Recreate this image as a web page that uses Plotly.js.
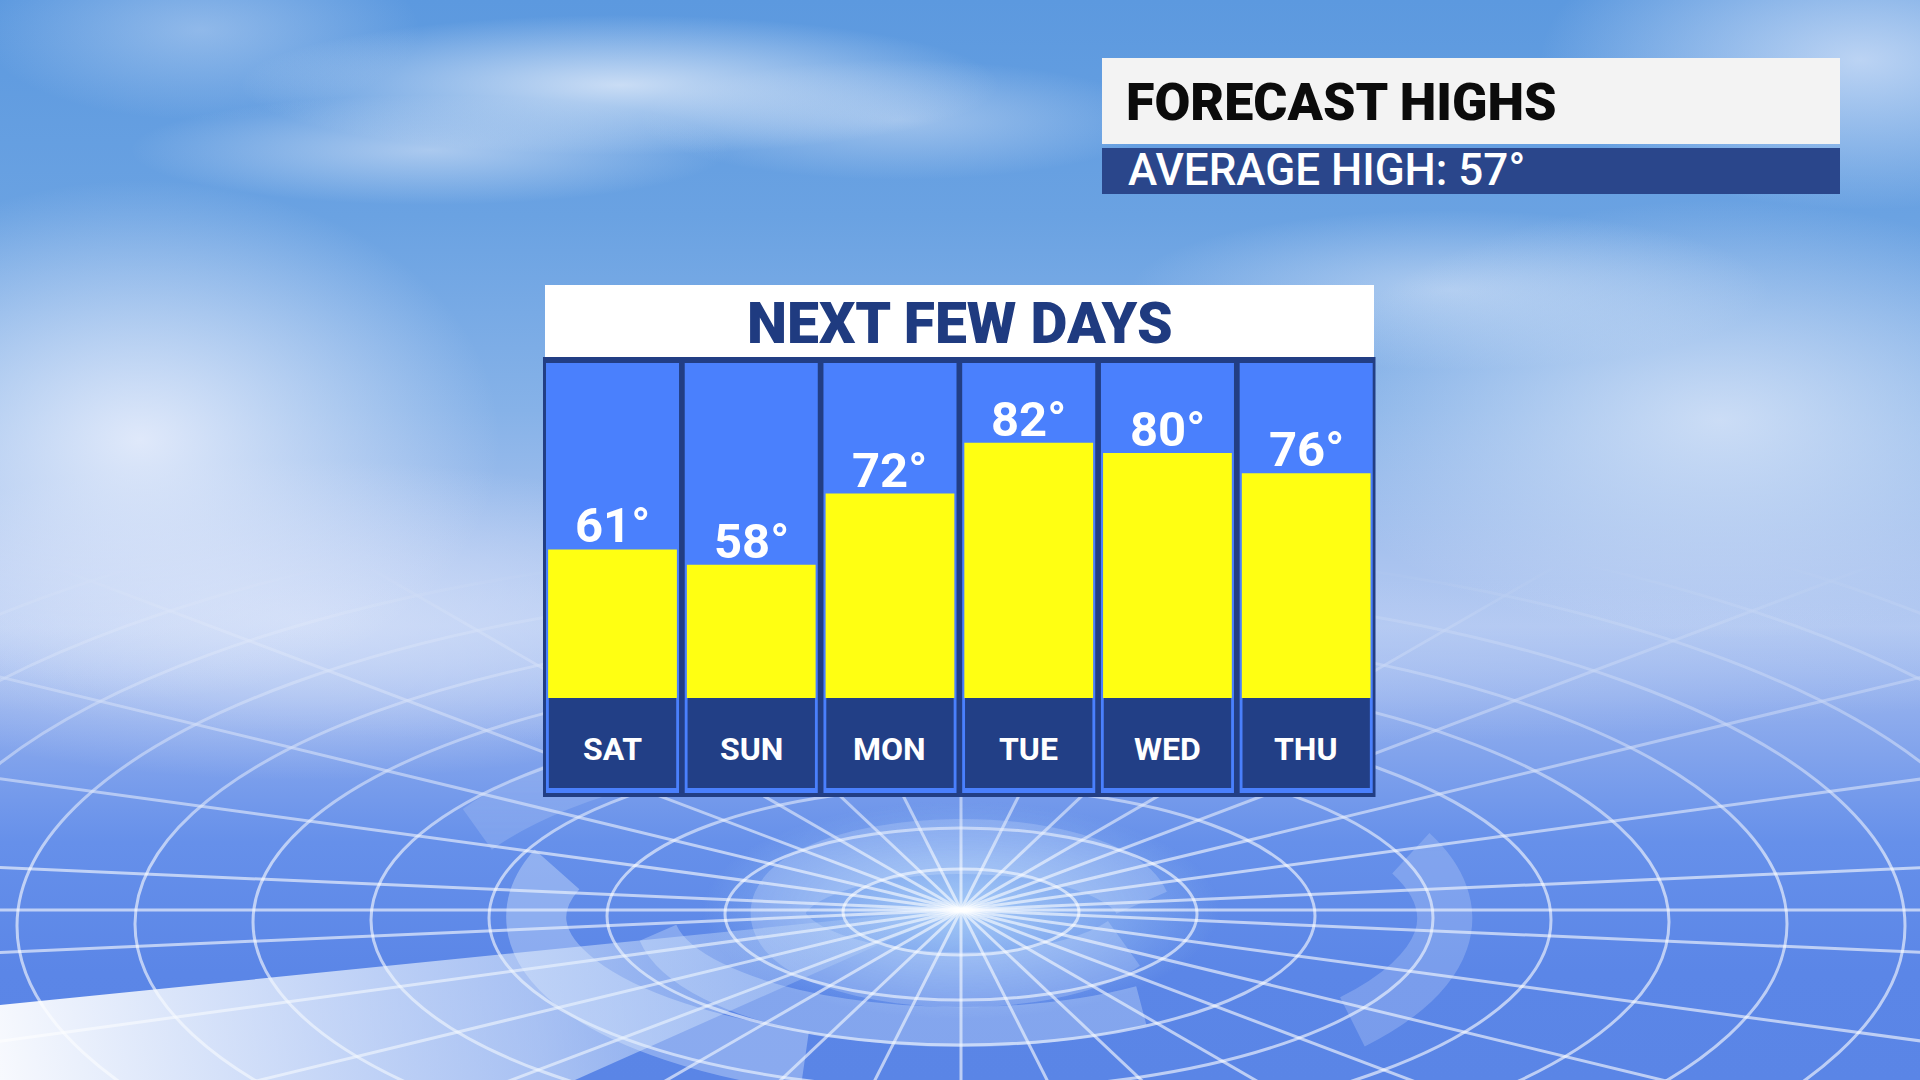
<!DOCTYPE html>
<html>
<head>
<meta charset="utf-8">
<script src="https://cdn.plot.ly/plotly-3.0.1.min.js"></script>
<style>
html,body{margin:0;padding:0;width:1920px;height:1080px;overflow:hidden;background:#6a9fe2;}
#sky{position:absolute;left:0;top:0;width:1920px;height:1080px;
background:
 radial-gradient(ellipse 380px 70px at 620px 85px, rgba(236,242,252,0.75), rgba(236,242,252,0) 100%),
 radial-gradient(ellipse 300px 55px at 430px 150px, rgba(228,236,250,0.55), rgba(228,236,250,0) 100%),
 radial-gradient(ellipse 260px 60px at 900px 120px, rgba(228,236,250,0.45), rgba(228,236,250,0) 100%),
 radial-gradient(ellipse 220px 90px at 200px 30px, rgba(205,222,246,0.45), rgba(205,222,246,0) 100%),
 radial-gradient(ellipse 360px 260px at 140px 440px, rgba(232,238,252,0.9), rgba(232,238,252,0) 100%),
 radial-gradient(ellipse 520px 160px at 300px 620px, rgba(215,226,249,0.8), rgba(215,226,249,0) 100%),
 radial-gradient(ellipse 420px 220px at 1720px 420px, rgba(220,231,249,0.8), rgba(220,231,249,0) 100%),
 radial-gradient(ellipse 320px 150px at 1860px 60px, rgba(218,230,250,0.75), rgba(218,230,250,0) 100%),
 radial-gradient(ellipse 320px 80px at 1450px 290px, rgba(222,233,250,0.55), rgba(222,233,250,0) 100%),
 radial-gradient(ellipse 1150px 90px at 960px 660px, rgba(186,205,244,0.6), rgba(186,205,244,0) 100%),
 linear-gradient(to bottom, #5c99df 0%, #6aa2e2 20%, #86b2e8 38%, #a9c3ef 52%, #b3c9f2 58%, #8eaced 66%, #6690ea 78%, #5b86e7 90%, #5a85e6 100%);}
#grid{position:absolute;left:0;top:0;width:1920px;height:1080px;}
#chart{position:absolute;left:0;top:0;width:1920px;height:1080px;}
</style>
</head>
<body>
<div id="sky"></div>
<div id="grid"></div>
<div id="chart"></div>
<script>
// ---- data ----
const days = ['SAT', 'SUN', 'MON', 'TUE', 'WED', 'THU'];
const highs = [61, 58, 72, 82, 80, 76];
const AVG_HIGH = 57;
const TITLE_TEXT = 'FORECAST HIGHS';
const AVG_LABEL = 'AVERAGE HIGH:';
const PANEL_TITLE = 'NEXT FEW DAYS';

// ---- decorative background grid (perspective radar plane) ----
(function(){
  const cx = 961, cy = 910;
  let g = '';
  for (let n = 1; n <= 16; n++) {
    const rx = 118 * n, ry = 43 * n, oy = cy + 2 * n;
    g += `<ellipse cx="${cx}" cy="${oy}" rx="${rx}" ry="${ry}"/>`;
  }
  const N = 30;
  for (let k = 0; k < N; k++) {
    const t = (k + 0.5) * 2 * Math.PI / N;
    const dx = Math.cos(t), dy = 0.42 * Math.sin(t);
    const L = 3000;
    g += `<line x1="${cx}" y1="${cy}" x2="${cx + dx * L}" y2="${cy + dy * L}"/>`;
  }
  g += `<line x1="0" y1="${cy}" x2="1920" y2="${cy}"/>`;
  function arc(n, a0, a1, w, op) {
    const rx = 118 * n, ry = 43 * n, oy = cy + 2 * n;
    const p0 = [cx + rx * Math.cos(a0), oy + ry * Math.sin(a0)];
    const p1 = [cx + rx * Math.cos(a1), oy + ry * Math.sin(a1)];
    const large = Math.abs(a1 - a0) > Math.PI ? 1 : 0;
    return `<path d="M${p0[0]},${p0[1]} A${rx},${ry} 0 ${large} 1 ${p1[0]},${p1[1]}" stroke-width="${w}" stroke-opacity="${op}"/>`;
  }
  let bands = '';
  bands += arc(1.55, Math.PI * 0.15, Math.PI * 1.95, 55, 0.22);
  bands += arc(3.6, Math.PI * 0.62, Math.PI * 1.1, 60, 0.35);
  bands += arc(2.6, Math.PI * 0.3, Math.PI * 0.95, 40, 0.3);
  bands += arc(4.1, -Math.PI * 0.12, Math.PI * 0.2, 55, 0.22);
  bands += arc(4.6, Math.PI * 1.15, Math.PI * 1.45, 50, 0.2);
  const svg = `<svg width="1920" height="1080" xmlns="http://www.w3.org/2000/svg">
  <defs>
   <linearGradient id="fade" gradientUnits="userSpaceOnUse" x1="0" y1="560" x2="0" y2="860">
     <stop offset="0" stop-color="#fff" stop-opacity="0"/>
     <stop offset="1" stop-color="#fff" stop-opacity="1"/>
   </linearGradient>
   <mask id="m"><rect width="1920" height="1080" fill="url(#fade)"/></mask>
   <radialGradient id="glow" gradientUnits="userSpaceOnUse" cx="${cx}" cy="${cy}" r="260" gradientTransform="translate(0 ${cy}) scale(1 0.42) translate(0 ${-cy})">
     <stop offset="0" stop-color="#b7dafa" stop-opacity="0.8"/>
     <stop offset="1" stop-color="#b7dafa" stop-opacity="0"/>
   </radialGradient>
   <linearGradient id="beam" gradientUnits="userSpaceOnUse" x1="0" y1="1060" x2="961" y2="910">
     <stop offset="0" stop-color="#ffffff" stop-opacity="0.95"/>
     <stop offset="0.55" stop-color="#e8f2fd" stop-opacity="0.55"/>
     <stop offset="1" stop-color="#d8ecfd" stop-opacity="0.05"/>
   </linearGradient>
  </defs>
  <g mask="url(#m)">
   <ellipse cx="${cx}" cy="${cy + 20}" rx="420" ry="200" fill="url(#glow)"/>
   <g stroke="#ffffff" fill="none" stroke-opacity="0.6" stroke-width="3">${g}</g>
   <g stroke="#e6f1ff" fill="none">${bands}</g>
  </g>
  <polygon points="0,1005 961,908 575,1080 0,1080" fill="url(#beam)"/>
  </svg>`;
  document.getElementById('grid').innerHTML = svg;
})();

// ---- chart geometry (pixels on the 1920x1080 canvas) ----
const W = 1920, H = 1080;
const PX = x => x / W;
const PY = y => 1 - y / H;
const Y_TOP = 97.7;        // value at top of the columns
const BAR_BASE = 31.77;    // value where yellow bars start
const LABEL_BOTTOM = 14.06;
const COL_BOTTOM = 13.08;
const Y_MIN = 12.29;
const DAY_LABEL_Y = 21.65;

const FONT = 'Roboto, "Open Sans", Arial, sans-serif';

const colTrace = {
  type: 'bar', x: days, y: days.map(() => Y_TOP - COL_BOTTOM), base: COL_BOTTOM,
  width: 0.959, marker: {color: '#4a80fd', line: {width: 0}}, hoverinfo: 'skip', showlegend: false
};
const labelTrace = {
  type: 'bar', x: days, y: days.map(() => BAR_BASE - LABEL_BOTTOM), base: LABEL_BOTTOM,
  width: 0.918, marker: {color: '#223f86', line: {width: 0}},
  hoverinfo: 'skip', showlegend: false
};
const highTrace = {
  type: 'bar', x: days, y: highs.map(v => v - BAR_BASE), base: BAR_BASE,
  width: 0.928, marker: {color: '#ffff12', line: {width: 0}},
  customdata: highs, hovertemplate: '%{x}: %{customdata}°<extra></extra>', showlegend: false
};

const shapes = [
  {type: 'rect', xref: 'paper', yref: 'paper', x0: PX(1102), x1: PX(1840), y0: PY(144), y1: PY(58),
   fillcolor: '#f3f3f3', line: {width: 0}, layer: 'below'},
  {type: 'rect', xref: 'paper', yref: 'paper', x0: PX(1102), x1: PX(1840), y0: PY(194), y1: PY(148),
   fillcolor: '#2a468b', line: {width: 0}, layer: 'below'},
  {type: 'rect', xref: 'paper', yref: 'paper', x0: PX(545), x1: PX(1374), y0: PY(357), y1: PY(285),
   fillcolor: '#ffffff', line: {width: 0}, layer: 'below'},
  {type: 'rect', xref: 'paper', yref: 'paper', x0: PX(543), x1: PX(1375.5), y0: PY(797), y1: PY(357),
   fillcolor: '#223e84', line: {width: 0}, layer: 'below'}
];

const annotations = [
  {xref: 'paper', yref: 'paper', x: PX(1124), y: PY(102), xanchor: 'left', yanchor: 'middle',
   text: TITLE_TEXT, showarrow: false,
   font: {family: FONT, size: 52, color: '#0b0b0b', weight: 900}},
  {xref: 'paper', yref: 'paper', x: PX(1126), y: PY(170), xanchor: 'left', yanchor: 'middle',
   text: AVG_LABEL + ' ' + AVG_HIGH + '°', showarrow: false,
   font: {family: FONT, size: 44, color: '#ffffff', weight: 500}},
  {xref: 'paper', yref: 'paper', x: PX(959.5), y: PY(323), xanchor: 'center', yanchor: 'middle',
   text: PANEL_TITLE, showarrow: false,
   font: {family: FONT, size: 57, color: '#1f3b80', weight: 900}}
];
// value labels above each bar
highs.forEach((v, i) => annotations.push({
  xref: 'x', yref: 'y', x: days[i], y: v, xanchor: 'center', yanchor: 'bottom', yshift: -7,
  text: v + '°', showarrow: false,
  font: {family: FONT, size: 49, color: '#ffffff', weight: 700}
}));
// day names in the navy boxes
days.forEach(d => annotations.push({
  xref: 'x', yref: 'y', x: d, y: DAY_LABEL_Y, xanchor: 'center', yanchor: 'middle',
  text: d, showarrow: false,
  font: {family: FONT, size: 32, color: '#ffffff', weight: 700}
}));

const layout = {
  width: W, height: H,
  margin: {l: 0, r: 0, t: 0, b: 0, pad: 0},
  paper_bgcolor: 'rgba(0,0,0,0)', plot_bgcolor: 'rgba(0,0,0,0)',
  barmode: 'overlay', showlegend: false,
  xaxis: {type: 'category', domain: [PX(543.15), PX(1375.55)], range: [-0.5, 5.5],
          showgrid: false, zeroline: false, showticklabels: false, ticks: '', showline: false, fixedrange: true},
  yaxis: {domain: [PY(797), PY(363)], range: [Y_MIN, Y_TOP],
          showgrid: false, zeroline: false, showticklabels: false, ticks: '', showline: false, fixedrange: true},
  shapes: shapes,
  annotations: annotations,
  font: {family: FONT}
};

Plotly.newPlot('chart', [colTrace, labelTrace, highTrace], layout, {displayModeBar: false, staticPlot: true});
</script>
</body>
</html>
